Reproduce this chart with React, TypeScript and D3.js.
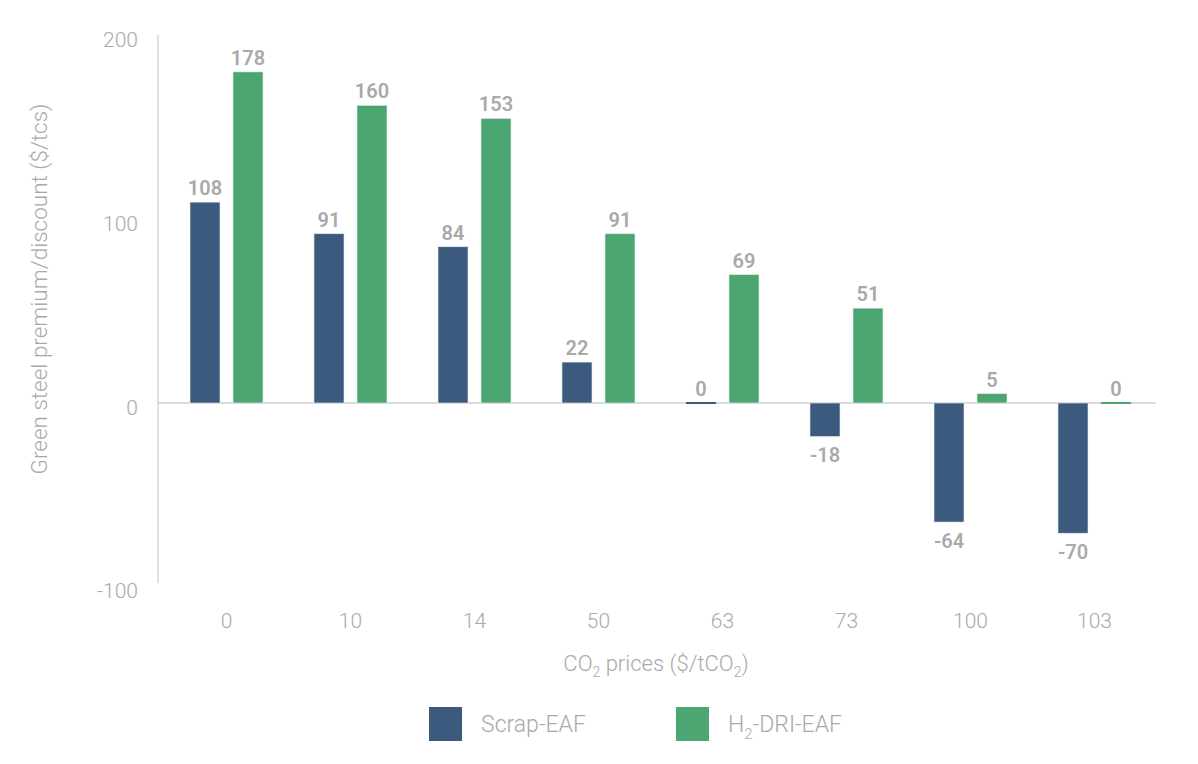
import React from 'react';
import * as d3 from 'd3';

const categories = ['0', '10', '14', '50', '63', '73', '100', '103'];
const scrapEaf = [108, 91, 84, 22, 0, -18, -64, -70];
const h2DriEaf = [178, 160, 153, 91, 69, 51, 5, 0];
const yTicks = [-100, 0, 100, 200];

const seriesNames = ['Scrap-EAF', 'H2-DRI-EAF'];
const colors = ['#3b5a7e', '#4ca672'];

const width = 1198;
const height = 764;

const font = 'Roboto, "Noto Sans", sans-serif';
const gray = '#a9a9a9';
const axisGray = '#cfcfcf';

const App: React.FC = () => {
  const x = d3.scaleBand<string>()
    .domain(categories)
    .range([164.5, 1156.5]);

  // bar scale
  const y = d3.scaleLinear()
    .domain([-100, 200])
    .range([589, 31]);

  // tick label placement (labels sit slightly inside the plot ends)
  const yLabel = d3.scaleLinear()
    .domain([-100, 200])
    .range([591, 40]);

  const barW = 30;
  const gap = 13;
  const series = [scrapEaf, h2DriEaf];

  return (
    <svg width={width} height={height} style={{ position: 'absolute', left: 0, top: 0, fontFamily: font }}>
      <rect width={width} height={height} fill="#fff" />

      {/* y axis */}
      <line x1={158} x2={158} y1={35} y2={583} stroke={axisGray} strokeWidth={1.3} />
      {yTicks.map(t => (
        <text key={t} x={138} y={yLabel(t)} dy="0.35em" textAnchor="end" fill={gray} fontSize={21} fontWeight={300}>
          {t}
        </text>
      ))}

      {/* zero line */}
      <line x1={158} x2={1156} y1={y(0)} y2={y(0)} stroke={axisGray} strokeWidth={1.3} />

      {/* bars */}
      {series.map((vals, si) => (
        <g key={si}>
          {vals.map((v, i) => {
            const cx = (x(categories[i]) as number) + x.bandwidth() / 2;
            const bx = si === 0 ? cx - gap / 2 - barW : cx + gap / 2;
            const top = Math.min(y(v), y(0));
            const h = Math.abs(y(v) - y(0));
            const labelY = v >= 0 ? y(v) - 7 : y(v) + 26;
            return (
              <g key={i}>
                {v === 0 ? (
                  <rect x={bx} y={y(0) - 1} width={barW} height={2} fill={colors[si]} />
                ) : (
                  <rect x={bx} y={top} width={barW} height={h}
                    fill={colors[si]} stroke="#e3e9ee" strokeWidth={0.6} />
                )}
                <text x={bx + barW / 2} y={labelY} textAnchor="middle" fill={gray} fontSize={20} fontWeight={600}>
                  {v}
                </text>
              </g>
            );
          })}
        </g>
      ))}

      {/* x tick labels */}
      {categories.map(c => (
        <text key={c} x={(x(c) as number) + x.bandwidth() / 2} y={621} dy="0.35em" textAnchor="middle"
          fill={gray} fontSize={21} fontWeight={300}>
          {c}
        </text>
      ))}

      {/* x axis title */}
      <text x={656} y={663} dy="0.35em" textAnchor="middle" fill={gray} fontSize={22} fontWeight={300}>
        CO<tspan fontSize={14} dy={6}>2</tspan><tspan dy={-6}> prices ($/tCO</tspan><tspan fontSize={14} dy={6}>2</tspan><tspan dy={-6}>)</tspan>
      </text>

      {/* y axis title */}
      <text transform="translate(39,289) rotate(-90)" dy="0.35em" textAnchor="middle"
        fill={gray} fontSize={22.5} fontWeight={300}>
        Green steel premium/discount ($/tcs)
      </text>

      {/* legend */}
      {seriesNames.map((n, i) => {
        const lx = 429 + i * 247;
        return (
          <g key={n}>
            <rect x={lx} y={707} width={33} height={34} fill={colors[i]} />
            <text x={lx + 52} y={724} dy="0.35em" fill={gray} fontSize={23} fontWeight={300}>
              {i === 0 ? n : (<>H<tspan fontSize={15} dy={7}>2</tspan><tspan dy={-7}>-DRI-EAF</tspan></>)}
            </text>
          </g>
        );
      })}
    </svg>
  );
};

export default App;
